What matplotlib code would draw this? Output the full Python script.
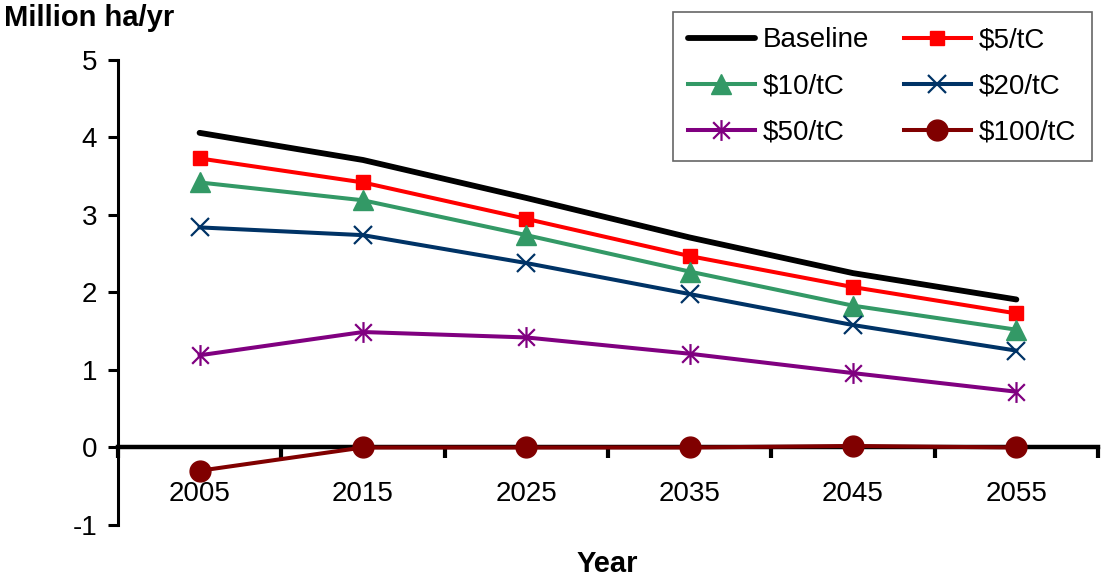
import matplotlib
matplotlib.use("Agg")
import matplotlib.pyplot as plt
from matplotlib.path import Path
import numpy as np

plt.rcParams['font.family'] = ['Liberation Sans', 'DejaVu Sans']
plt.rcParams['axes.unicode_minus'] = False

years = ["2005", "2015", "2025", "2035", "2045", "2055"]
baseline = [4.06, 3.71, 3.22, 2.71, 2.25, 1.91]
p5 = [3.73, 3.42, 2.95, 2.47, 2.07, 1.73]
p10 = [3.42, 3.19, 2.74, 2.27, 1.83, 1.52]
p20 = [2.84, 2.74, 2.38, 1.98, 1.58, 1.25]
p50 = [1.19, 1.49, 1.42, 1.21, 0.96, 0.72]
p100 = [-0.30, 0.0, 0.0, 0.0, 0.02, 0.0]

star = Path([(0, -1), (0, 1), (-0.8, -0.8), (0.8, 0.8), (-0.8, 0.8), (0.8, -0.8)],
            [Path.MOVETO, Path.LINETO, Path.MOVETO, Path.LINETO, Path.MOVETO, Path.LINETO])

fig = plt.figure(figsize=(11.02, 5.78), dpi=100)
ax = fig.add_axes([0.107, 0.0917, 0.8894, 0.8045])
x = np.arange(len(years))

lb, = ax.plot(x, baseline, color='black', lw=4.2, label='Baseline', solid_capstyle='round')
l5, = ax.plot(x, p5, color='#FF0000', lw=2.9, marker='s', ms=10.5, label='$5/tC')
l10, = ax.plot(x, p10, color='#339966', lw=2.9, marker='^', ms=14, label='$10/tC')
l20, = ax.plot(x, p20, color='#003366', lw=2.9, marker='x', ms=13, mew=1.6, label='$20/tC')
l50, = ax.plot(x, p50, color='#800080', lw=2.9, marker=star, ms=15, mew=1.6, label='$50/tC')
l100, = ax.plot(x, p100, color='#800000', lw=2.9, marker='o', ms=15, label='$100/tC')

ax.set_xlim(-0.5, 5.5)
ax.set_ylim(-1, 5)
ax.spines['top'].set_visible(False)
ax.spines['right'].set_visible(False)
ax.spines['bottom'].set_position(('data', 0))
ax.spines['bottom'].set_linewidth(3.2)
ax.spines['left'].set_linewidth(2.2)
ax.spines['bottom'].set_zorder(1)

ax.set_yticks(range(-1, 6))
ax.tick_params(axis='y', direction='out', length=7, width=2.2, labelsize=20, pad=8)

ax.set_xticks(np.arange(-0.5, 6.0, 1.0))
ax.set_xticklabels([])
ax.tick_params(axis='x', which='major', direction='out', length=8, width=3)
ax.set_xticks(x, minor=True)
ax.set_xticklabels(years, minor=True)
ax.tick_params(axis='x', which='minor', length=0, labelsize=20, pad=24)

fig.text(0.004, 0.968, 'Million ha/yr', fontsize=21, fontweight='bold', ha='left', va='center')
fig.text(0.551, 0.025, 'Year', fontsize=21, fontweight='bold', ha='center', va='center')

handles = [lb, l10, l50, l5, l20, l100]
leg = ax.legend(handles=handles, ncol=2, loc='upper right', bbox_to_anchor=(0.9935, 1.103),
                fontsize=20, frameon=True, fancybox=False, edgecolor='#404040',
                handlelength=2.4, columnspacing=1.25, borderpad=0.55, labelspacing=0.72,
                handletextpad=0.3, borderaxespad=0)
leg.get_frame().set_linewidth(1.2)

fig.savefig('out.png', dpi=100)
